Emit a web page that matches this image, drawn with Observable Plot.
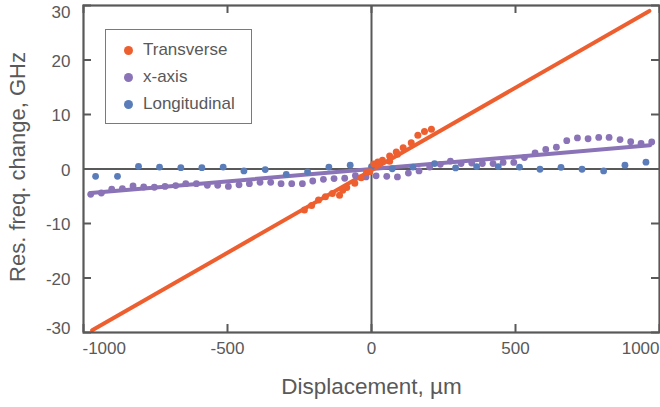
<!DOCTYPE html>
<html>
<head>
<meta charset="utf-8">
<script src="https://cdn.jsdelivr.net/npm/d3@7"></script>
<script src="https://cdn.jsdelivr.net/npm/@observablehq/plot@0.6"></script>
<style>
  body { margin: 0; background: #fff; font-family: "Liberation Sans", Arial, sans-serif; }
  #wrap { position: relative; width: 660px; height: 407px; }
  .legend { position: absolute; left: 105px; top: 29px; width: 145px; height: 93px; border: 1.5px solid #7a7a7a; background: #fff; }
  .item { position: absolute; left: 0; height: 20px; line-height: 20px; font-size: 17px; color: #595959; white-space: nowrap; }
  .item .dot { position: absolute; left: 17.5px; top: 5.5px; width: 9px; height: 9px; border-radius: 50%; }
  .item .lbl { position: absolute; left: 37px; top: 0; }
</style>
</head>
<body>
<div id="wrap"></div>
<script>
// ---------- data ----------
const seriesNames = ["Transverse", "x-axis", "Longitudinal"];
const seriesColors = ["#ee5f30", "#8a73b6", "#5a7db9"];

const transverseX = [-233, -208, -184, -160, -136, -111, -100, -86, -58, -36, -17, -6, 8, 22, 38, 63, 63, 86, 90, 110, 138, 161, 184, 208];
const transverseY = [-7.5, -6.7, -5.7, -5.1, -4.5, -4.8, -3.9, -3.4, -2.6, -1.6, -0.6, -0.5, 0.9, 1.3, 1.6, 2.4, 1.4, 3.1, 2.7, 3.9, 4.8, 6.2, 6.9, 7.3];

const xAxisX = [-975, -938, -902, -865, -828, -791, -754, -717, -680, -645, -608, -570, -534, -497, -460, -424, -387, -350, -314, -277, -240, -204, -167, -130, -93, -56, -19, 16, 53, 90, 128, 165, 202, 239, 274, 311, 348, 385, 422, 457, 494, 531, 568, 605, 642, 678, 715, 752, 789, 825, 863, 900, 936, 973];
const xAxisY = [-4.65, -4.4, -3.7, -3.6, -3.1, -3.3, -3.35, -3.2, -3.05, -2.7, -2.7, -3.0, -3.0, -3.2, -2.9, -2.7, -2.45, -2.45, -2.7, -2.7, -2.7, -2.2, -1.9, -1.75, -1.7, -1.2, -1.45, -1.25, -1.35, -1.45, -0.75, -0.35, 0.35, 0.85, 1.45, 1.0, 1.1, 1.0, 1.0, 1.2, 1.2, 2.1, 2.95, 3.6, 4.0, 5.2, 5.7, 5.55, 5.8, 5.8, 5.4, 5.0, 4.7, 4.95];

const longX = [-958, -882, -809, -736, -662, -589, -515, -443, -369, -296, -222, -148, -74, 0, 72, 144, 219, 292, 365, 440, 514, 585, 658, 731, 806, 880, 953];
const longY = [-1.35, -1.35, 0.5, 0.35, 0.25, 0.25, 0.35, -0.35, -0.1, -1.0, -0.55, 0.35, 0.7, 0.45, 0.05, 0.35, 1.0, 0.2, 0.45, 0.45, 0.35, -0.05, 0.3, -0.05, -0.35, 0.7, 1.25];

// fitted lines (end points)
const transverseFitX = [-970, 965];
const transverseFitY = [-29.6, 29.0];
const xAxisFitX = [-975, 967];
const xAxisFitY = [-4.4, 4.35];

const xTicks = [-1000, -500, 0, 500, 1000];
const yTicks = [-30, -20, -10, 0, 10, 20, 30];
const xLabel = "Displacement, µm";
const yLabel = "Res. freq. change, GHz";

// ---------- build ----------
const gray = "#595959";
const zip = (xs, ys) => xs.map((x, i) => ({x, y: ys[i]}));
const transverse = zip(transverseX, transverseY);
const xaxis = zip(xAxisX, xAxisY);
const longitudinal = zip(longX, longY);
const transverseFit = zip(transverseFitX, transverseFitY);
const xAxisFit = zip(xAxisFitX, xAxisFitY);

const W = 660, H = 407, ML = 83, MR = 1, MT = 5, MB = 75;
const frameW = W - ML - MR, frameH = H - MT - MB;
const TL = 8; // tick length

const chart = Plot.plot({
  width: W, height: H,
  marginLeft: ML, marginRight: MR, marginTop: MT, marginBottom: MB,
  x: {domain: [-1000, 1000], axis: null},
  y: {domain: [-30, 30], axis: null},
  style: {fontFamily: '"Liberation Sans", Arial, sans-serif', background: "white", color: gray},
  marks: [
    Plot.ruleX([0], {stroke: gray, strokeWidth: 2}),
    Plot.ruleY([0], {stroke: gray, strokeWidth: 2}),
    // inward ticks on all four sides
    Plot.ruleX(xTicks, {x: d => d, insetTop: frameH - TL, stroke: gray, strokeWidth: 2}),
    Plot.ruleX(xTicks, {x: d => d, insetBottom: frameH - TL, stroke: gray, strokeWidth: 2}),
    Plot.ruleY(yTicks, {y: d => d, insetRight: frameW - TL, stroke: gray, strokeWidth: 2}),
    Plot.ruleY(yTicks, {y: d => d, insetLeft: frameW - TL, stroke: gray, strokeWidth: 2}),
    // fitted lines
    Plot.line(xAxisFit, {x: "x", y: "y", stroke: seriesColors[1], strokeWidth: 4}),
    Plot.line(transverseFit, {x: "x", y: "y", stroke: seriesColors[0], strokeWidth: 4}),
    // data points
    Plot.dot(xaxis, {x: "x", y: "y", r: 3.4, fill: seriesColors[1]}),
    Plot.dot(longitudinal, {x: "x", y: "y", r: 3.4, fill: seriesColors[2]}),
    Plot.dot(transverse, {x: "x", y: "y", r: 3.5, fill: seriesColors[0]}),
    Plot.frame({stroke: gray, strokeWidth: 2.2}),
    // x tick labels
    Plot.text(xTicks.slice(1, -1), {x: d => d, text: d => String(d), frameAnchor: "bottom", dy: 21.5, fontSize: 17, fill: gray}),
    Plot.text(xTicks.slice(0, 1), {x: d => d, text: d => String(d), frameAnchor: "bottom", dy: 21.5, dx: -1, textAnchor: "start", fontSize: 17, fill: gray}),
    Plot.text(xTicks.slice(-1), {x: d => d, text: d => String(d), frameAnchor: "bottom", dy: 21.5, textAnchor: "end", fontSize: 17, fill: gray}),
    // y tick labels
    Plot.text(yTicks.slice(1, -1), {y: d => d, text: d => String(d), frameAnchor: "left", dx: -13, dy: 1.5, textAnchor: "end", fontSize: 17, fill: gray}),
    Plot.text(yTicks.slice(-1), {y: d => d, text: d => String(d), frameAnchor: "left", dx: -13, dy: 7, textAnchor: "end", fontSize: 17, fill: gray}),
    Plot.text(yTicks.slice(0, 1), {y: d => d, text: d => String(d), frameAnchor: "left", dx: -13, dy: -4, textAnchor: "end", fontSize: 17, fill: gray}),
    // axis titles
    Plot.text([xLabel], {frameAnchor: "bottom", dy: 61.5, textAnchor: "middle", fontSize: 22.5, fill: gray}),
    Plot.text([yLabel], {frameAnchor: "left", dx: -66, dy: -2, rotate: -90, textAnchor: "middle", fontSize: 22, fill: gray})
  ]
});

const wrap = document.getElementById("wrap");
wrap.appendChild(chart);

// legend
const legend = document.createElement("div");
legend.className = "legend";
seriesNames.forEach((name, i) => {
  const item = document.createElement("div");
  item.className = "item";
  item.style.top = (10 + i * 27) + "px";
  const dot = document.createElement("span");
  dot.className = "dot";
  dot.style.background = seriesColors[i];
  const lbl = document.createElement("span");
  lbl.className = "lbl";
  lbl.textContent = name;
  item.appendChild(dot);
  item.appendChild(lbl);
  legend.appendChild(item);
});
wrap.appendChild(legend);
</script>
</body>
</html>
